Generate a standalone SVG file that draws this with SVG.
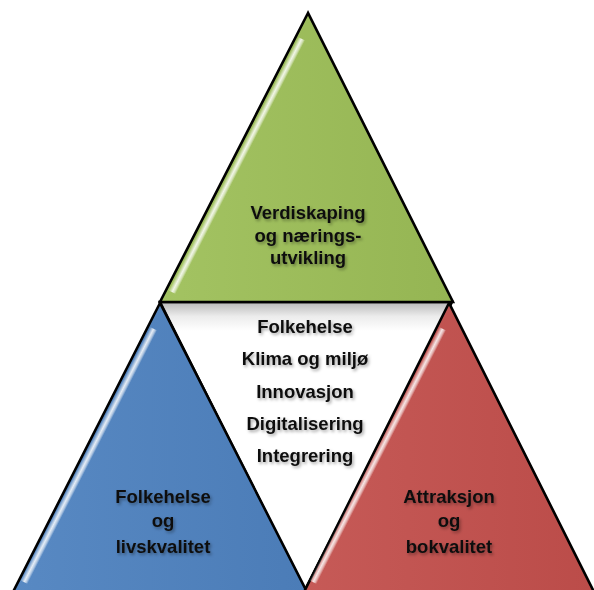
<svg xmlns="http://www.w3.org/2000/svg" xmlns:xlink="http://www.w3.org/1999/xlink" width="594" height="590" viewBox="0 0 594 590">
  <style>
    .tri { stroke: #000; stroke-width: 2.6; stroke-linejoin: miter; }
    .lbl { font-family: "Liberation Sans", Arial, sans-serif; font-weight: bold; font-size: 18.5px; fill: #111; text-anchor: middle; filter: url(#txtShadow); }
  </style>
  <defs>
    <filter id="txtShadow" x="-20%" y="-40%" width="140%" height="190%">
      <feDropShadow dx="1.5" dy="2" stdDeviation="1.4" flood-color="#000" flood-opacity="0.35"/>
    </filter>
    <linearGradient id="gGreen" x1="0" y1="0" x2="1" y2="0">
      <stop offset="0" stop-color="#a3c362"/>
      <stop offset="1" stop-color="#95b553"/>
    </linearGradient>
    <linearGradient id="gBlue" x1="0" y1="0" x2="1" y2="0">
      <stop offset="0" stop-color="#5889c3"/>
      <stop offset="1" stop-color="#4b7cb7"/>
    </linearGradient>
    <linearGradient id="gRed" x1="0" y1="0" x2="1" y2="0">
      <stop offset="0" stop-color="#c65a57"/>
      <stop offset="1" stop-color="#bb4c49"/>
    </linearGradient>
    <linearGradient id="gMid" x1="0" y1="0" x2="0" y2="1">
      <stop offset="0" stop-color="#b8b8b8"/>
      <stop offset="0.05" stop-color="#ececec"/>
      <stop offset="0.1" stop-color="#ffffff"/>
    </linearGradient>
    <linearGradient id="gGloss" gradientUnits="userSpaceOnUse" x1="-9.98" y1="23.95" x2="-2.86" y2="27.59">
      <stop offset="0" stop-color="#fff" stop-opacity="0"/>
      <stop offset="0.5" stop-color="#fff" stop-opacity="0.85"/>
      <stop offset="0.75" stop-color="#fff" stop-opacity="0.55"/>
      <stop offset="1" stop-color="#fff" stop-opacity="0"/>
    </linearGradient>
    <polygon id="gloss" points="-9.98,23.95 -2.86,27.59 -132.2,281.05 -139.3,277.4" fill="url(#gGloss)"/>
  </defs>

  <g id="center">
    <polygon class="tri" points="160,302 452,302 305,590" fill="url(#gMid)"/>
    <text class="lbl" x="305" y="333">Folkehelse</text>
    <text class="lbl" x="305" y="365">Klima og miljø</text>
    <text class="lbl" x="305" y="398">Innovasjon</text>
    <text class="lbl" x="305" y="430">Digitalisering</text>
    <text class="lbl" x="305" y="462">Integrering</text>
  </g>

  <g id="folkehelse-livskvalitet">
    <polygon class="tri" points="160,303 13,592 307,592" fill="url(#gBlue)"/>
    <use xlink:href="#gloss" transform="translate(160,303)"/>
    <text class="lbl" x="163" y="503">Folkehelse</text>
    <text class="lbl" x="163" y="527">og</text>
    <text class="lbl" x="163" y="553">livskvalitet</text>
  </g>

  <g id="attraksjon-bokvalitet">
    <polygon class="tri" points="449,303 304,592 594,592" fill="url(#gRed)"/>
    <use xlink:href="#gloss" transform="translate(449,303)"/>
    <text class="lbl" x="449" y="503">Attraksjon</text>
    <text class="lbl" x="449" y="527">og</text>
    <text class="lbl" x="449" y="553">bokvalitet</text>
  </g>

  <g id="verdiskaping">
    <polygon class="tri" points="308,13 160,302 453,302" fill="url(#gGreen)"/>
    <use xlink:href="#gloss" transform="translate(308,13)"/>
    <text class="lbl" x="308" y="219">Verdiskaping</text>
    <text class="lbl" x="308" y="242">og nærings-</text>
    <text class="lbl" x="308" y="264">utvikling</text>
  </g>

  <g id="connectors"/>
</svg>
